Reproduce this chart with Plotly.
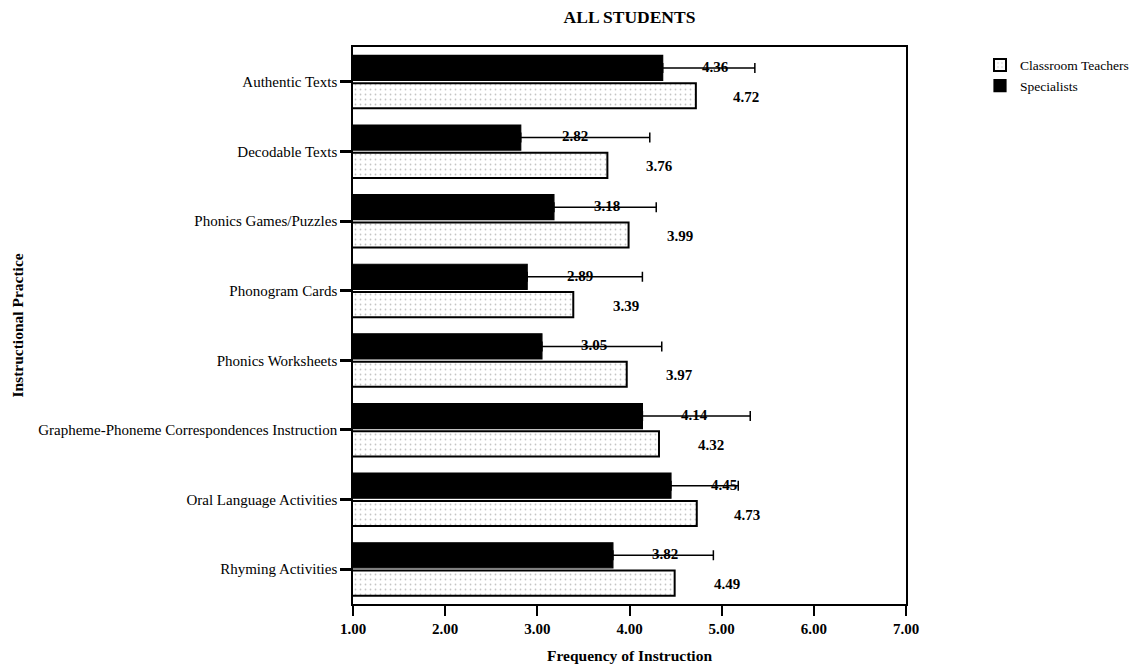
import plotly.graph_objects as go

# Instructional practices (top to bottom)
practices = [
    "Authentic Texts",
    "Decodable Texts",
    "Phonics Games/Puzzles",
    "Phonogram Cards",
    "Phonics Worksheets",
    "Grapheme-Phoneme Correspondences Instruction",
    "Oral Language Activities",
    "Rhyming Activities",
]

# Mean frequency of instruction
classroom_means = [4.72, 3.76, 3.99, 3.39, 3.97, 4.32, 4.73, 4.49]
specialist_means = [4.36, 2.82, 3.18, 2.89, 3.05, 4.14, 4.45, 3.82]

# Upper error bar length for specialists
specialist_err = [1.00, 1.40, 1.11, 1.25, 1.30, 1.17, 0.73, 1.09]

x_ticks = [1, 2, 3, 4, 5, 6, 7]

SERIF = "Liberation Serif"

fig = go.Figure()

fig.add_trace(go.Bar(
    name="Specialists",
    y=practices,
    x=specialist_means,
    base=0,
    orientation="h",
    marker=dict(color="black", line=dict(color="black", width=1.2)),
    error_x=dict(type="data", array=specialist_err, arrayminus=[0] * len(practices),
                 symmetric=False, color="black", thickness=1.5, width=5),
))

fig.add_trace(go.Bar(
    name="Classroom Teachers",
    y=practices,
    x=classroom_means,
    base=0,
    orientation="h",
    marker=dict(
        color="white",
        line=dict(color="black", width=2),
        pattern=dict(shape=".", fgcolor="#8a8a8a", bgcolor="white",
                     size=5, solidity=0.1),
    ),
))

# Value labels placed beside each bar
spec_label_x = [4.93, 3.41, 3.76, 3.46, 3.61, 4.70, 5.02, 4.38]
class_label_x = [5.26, 4.33, 4.55, 3.96, 4.54, 4.88, 5.28, 5.06]

label_font = dict(family=SERIF, size=15, color="black", weight="bold")
annotations = []
for cat, v, lx in zip(practices, specialist_means, spec_label_x):
    annotations.append(dict(x=lx, y=cat, xref="x", yref="y", text=f"{v:.2f}",
                            showarrow=False, yshift=15, font=label_font))
for cat, v, lx in zip(practices, classroom_means, class_label_x):
    annotations.append(dict(x=lx, y=cat, xref="x", yref="y", text=f"{v:.2f}",
                            showarrow=False, yshift=-15, font=label_font))

# Axis titles
annotations.append(dict(x=0.5, y=-0.0916, xref="paper", yref="paper",
                        text="<b>Frequency of Instruction</b>", showarrow=False,
                        xanchor="center", yanchor="middle",
                        font=dict(family=SERIF, size=15.5, color="black")))
annotations.append(dict(x=-0.6075, y=0.5, xref="paper", yref="paper",
                        text="<b>Instructional Practice</b>", showarrow=False,
                        textangle=-90, xanchor="center", yanchor="middle",
                        font=dict(family=SERIF, size=15.5, color="black")))

fig.update_layout(
    width=1139,
    height=664,
    margin=dict(l=353, r=233, t=47, b=60),
    paper_bgcolor="white",
    plot_bgcolor="white",
    barmode="group",
    bargap=0.2,
    bargroupgap=0.1,
    title=dict(text="<b>ALL STUDENTS</b>", x=0.5, xref="paper", xanchor="center",
               y=0.974, yref="container", yanchor="middle",
               font=dict(family=SERIF, size=17.5, color="black")),
    font=dict(family=SERIF, size=15, color="black"),
    showlegend=True,
    legend=dict(x=980 / 1139, y=0.925, xref="container", yref="container",
                xanchor="left", yanchor="top",
                traceorder="reversed", font=dict(family=SERIF, size=13.5),
                bgcolor="rgba(0,0,0,0)", itemwidth=30, tracegroupgap=0),
    annotations=annotations,
)

fig.update_xaxes(
    range=[1, 7],
    tickvals=x_ticks,
    ticktext=[f"{t:.2f}" for t in x_ticks],
    ticks="outside", ticklen=10, tickwidth=2, tickcolor="black",
    showline=True, linecolor="black", linewidth=1.5, mirror=True,
    showgrid=False, zeroline=False,
    tickfont=dict(family=SERIF, size=15, color="black", weight="bold"),
)

fig.update_yaxes(
    categoryorder="array",
    categoryarray=practices,
    autorange="reversed",
    ticks="outside", ticklen=11, tickwidth=2.5, tickcolor="black",
    showline=True, linecolor="black", linewidth=1.5, mirror=True,
    showgrid=False, zeroline=False,
    tickfont=dict(family=SERIF, size=15, color="black"),
)

fig.write_html("out.html")
